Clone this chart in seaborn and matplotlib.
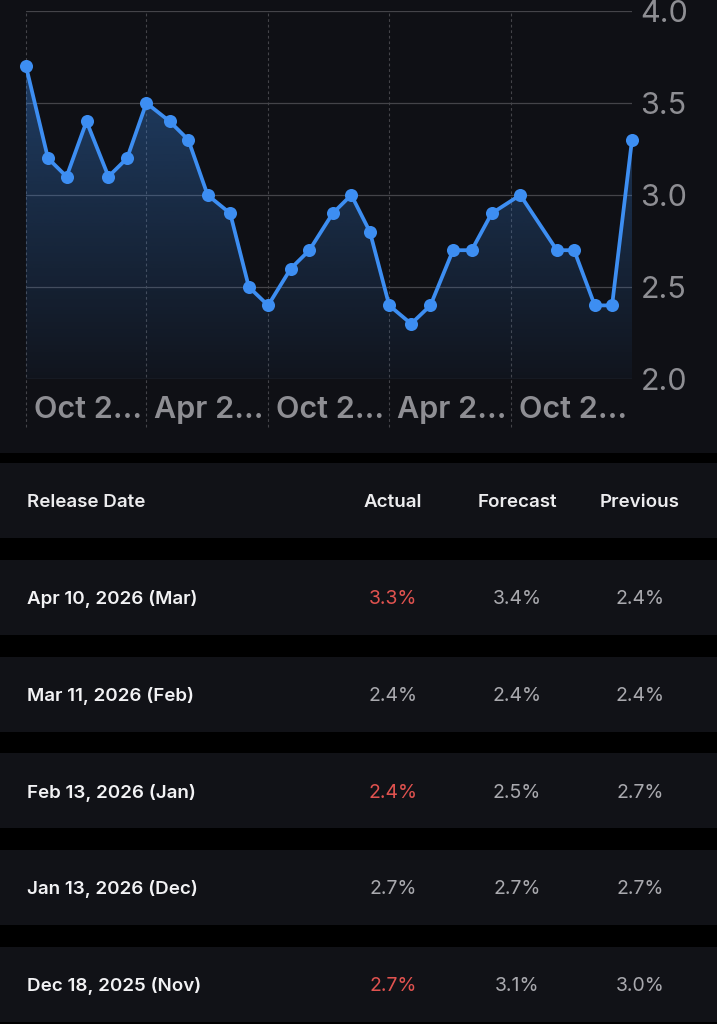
import matplotlib
matplotlib.use("Agg")
import matplotlib.pyplot as plt
import matplotlib.dates as mdates
from matplotlib.transforms import ScaledTranslation
import numpy as np
import pandas as pd
import seaborn as sns

# chart series: release date -> YoY value
release_dates = ["2023-10-12", "2023-11-14", "2023-12-12", "2024-01-11", "2024-02-13",
                 "2024-03-12", "2024-04-10", "2024-05-15", "2024-06-12", "2024-07-11",
                 "2024-08-14", "2024-09-11", "2024-10-10", "2024-11-13", "2024-12-11",
                 "2025-01-15", "2025-02-12", "2025-03-12", "2025-04-10", "2025-05-13",
                 "2025-06-11", "2025-07-15", "2025-08-12", "2025-09-11", "2025-10-24",
                 "2025-12-18", "2026-01-13", "2026-02-13", "2026-03-11", "2026-04-10"]
values = [3.7, 3.2, 3.1, 3.4, 3.1, 3.2, 3.5, 3.4, 3.3, 3.0,
          2.9, 2.5, 2.4, 2.6, 2.7, 2.9, 3.0, 2.8, 2.4, 2.3,
          2.4, 2.7, 2.7, 2.9, 3.0, 2.7, 2.7, 2.4, 2.4, 3.3]

tick_dates = ["2023-10-12", "2024-04-10", "2024-10-10", "2025-04-10", "2025-10-10"]
tick_labels = ["Oct 2\u2026", "Apr 2\u2026", "Oct 2\u2026", "Apr 2\u2026", "Oct 2\u2026"]
y_ticks = [2.0, 2.5, 3.0, 3.5, 4.0]

# table below the chart
table_header = ["Release Date", "Actual", "Forecast", "Previous"]
row_dates = ["Apr 10, 2026 (Mar)", "Mar 11, 2026 (Feb)", "Feb 13, 2026 (Jan)",
             "Jan 13, 2026 (Dec)", "Dec 18, 2025 (Nov)"]
actual = [3.3, 2.4, 2.4, 2.7, 2.7]
forecast = [3.4, 2.4, 2.5, 2.7, 3.1]
previous = [2.4, 2.4, 2.7, 2.7, 3.0]

BG = "#0f1015"
ROW = "#111217"
GRID = "#444449"
BLUE = "#3d8ef2"
LABEL = "#8e8e93"
VAL = "#a9a9ae"
RED = "#e0524f"

sns.set_theme(style="dark")
plt.rcParams["font.family"] = ["Inter", "DejaVu Sans"]

df = pd.DataFrame({"date": pd.to_datetime(release_dates), "value": values})

fig = plt.figure(figsize=(7.17, 10.24), dpi=100, facecolor="black")

# background layer in pixel coordinates
bg = fig.add_axes([0, 0, 1, 1], zorder=0)
bg.set_xlim(0, 717)
bg.set_ylim(1024, 0)
bg.axis("off")
bg.axhspan(0, 453, color=BG, lw=0)

# chart
W, H = 717, 1024
ax = fig.add_axes([26 / W, 1 - 379 / H, 606 / W, 368 / H], zorder=1)
ax.set_facecolor(BG)
for s in ax.spines.values():
    s.set_visible(False)

x0 = pd.Timestamp(release_dates[0])
x1 = pd.Timestamp(release_dates[-1])
ax.set_xlim(x0, x1)
ax.set_ylim(2.0, 4.0)

# gradient area under line
fill = ax.fill_between(df["date"], df["value"], 2.0, color="none", lw=0)
grad = np.zeros((256, 1, 4))
grad[:, 0, :3] = np.array(matplotlib.colors.to_rgb(BLUE))
grad[:, 0, 3] = np.linspace(0.04, 0.36, 256)
img = ax.imshow(grad, extent=[mdates.date2num(x0), mdates.date2num(x1), 2.0, max(values)],
                origin="lower", aspect="auto", zorder=1)
img.set_clip_path(fill.get_paths()[0], transform=ax.transData)

# grid
for yv in y_ticks:
    ax.axhline(yv, color=GRID, lw=0.9, zorder=0.5)
for td in tick_dates:
    ax.axvline(pd.Timestamp(td), ymin=-0.13, ymax=1, color=GRID, lw=0.8,
               ls=(0, (2.5, 2.5)), clip_on=False, zorder=0.5)

sns.lineplot(data=df, x="date", y="value", ax=ax, color=BLUE, lw=2.7,
             marker="o", markersize=9.4, markeredgewidth=0, clip_on=False, zorder=3)

ax.grid(False)
ax.set_xlabel("")
ax.set_ylabel("")
ax.yaxis.tick_right()
ax.set_yticks(y_ticks)
ax.set_yticklabels([f"{v:.1f}" for v in y_ticks])
ax.set_xticks(pd.to_datetime(tick_dates))
ax.set_xticklabels(tick_labels)
ax.tick_params(axis="y", length=0, pad=6, labelsize=22, labelcolor=LABEL)
ax.tick_params(axis="x", length=0, pad=12, labelsize=22, labelcolor=LABEL)
shift = ScaledTranslation(8 / 100, 0, fig.dpi_scale_trans)
for lab in ax.get_xticklabels():
    lab.set_horizontalalignment("left")
    lab.set_fontweight("semibold")
    lab.set_transform(lab.get_transform() + shift)

# table
col_x = [27, 393, 517, 640]
header_top = 463
row_h = 75
step = 96.75
fs_head = 13.5
fs_val = 14

bg.axhspan(header_top, header_top + row_h, color=ROW, lw=0)
yc = header_top + row_h / 2 + 2
bg.text(col_x[0], yc, table_header[0], color="#ececee", fontsize=fs_head,
        fontweight="semibold", ha="left", va="center")
for cx, name in zip(col_x[1:], table_header[1:]):
    bg.text(cx, yc, name, color="#ececee", fontsize=fs_head,
            fontweight="semibold", ha="center", va="center")

for i, d in enumerate(row_dates):
    top = header_top + step * (i + 1)
    bg.axhspan(top, top + row_h, color=ROW, lw=0)
    yc = top + row_h / 2 + 2
    bg.text(col_x[0], yc, d, color="#f2f2f4", fontsize=fs_head,
            fontweight="semibold", ha="left", va="center")
    act_color = RED if actual[i] < forecast[i] else VAL
    bg.text(col_x[1], yc, f"{actual[i]:.1f}%", color=act_color, fontsize=fs_val,
            ha="center", va="center")
    bg.text(col_x[2], yc, f"{forecast[i]:.1f}%", color=VAL, fontsize=fs_val,
            ha="center", va="center")
    bg.text(col_x[3], yc, f"{previous[i]:.1f}%", color=VAL, fontsize=fs_val,
            ha="center", va="center")

fig.savefig("out.png", dpi=100, facecolor="black")
